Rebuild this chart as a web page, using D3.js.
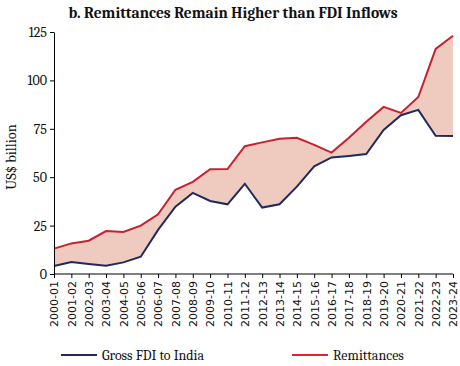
<!DOCTYPE html>
<html><head><meta charset="utf-8">
<script src="https://cdn.jsdelivr.net/npm/d3@7"></script>
<style>body{margin:0;background:#fff}svg{display:block}</style>
</head><body>
<svg id="c" width="460" height="366"></svg>
<script>
const years = ["2000-01","2001-02","2002-03","2003-04","2004-05","2005-06","2006-07","2007-08","2008-09","2009-10","2010-11","2011-12","2012-13","2013-14","2014-15","2015-16","2016-17","2017-18","2018-19","2019-20","2020-21","2021-22","2022-23","2023-24"];
const fdi = [4.1,6.2,5.2,4.3,6.0,8.9,22.8,34.8,41.9,37.7,36.0,46.6,34.3,36.0,45.1,55.6,60.2,61.0,62.0,74.4,82.0,84.8,71.4,71.3];
const remittances = [13.1,15.8,17.2,22.2,21.7,25.0,30.8,43.5,47.6,54.1,54.2,66.0,68.0,69.9,70.4,66.7,62.7,70.4,78.6,86.3,83.2,91.4,116.3,123.1];
const yTicks = [0,25,50,75,100,125];

const svg = d3.select("#c");
const x = d3.scalePoint().domain(years).range([54, 453]);
const y = d3.scaleLinear().domain([0,125]).range([274, 32]);
const serif = "Cambria, 'Liberation Serif', 'DejaVu Serif', serif";

svg.append("text").attr("x", 233).attr("y", 18).attr("text-anchor","middle")
  .attr("font-family", serif).attr("font-weight","bold").attr("font-size", 15.5)
  .attr("fill","#111").text("b. Remittances Remain Higher than FDI Inflows");

const data = years.map((d,i)=>({yr:d, f:fdi[i], r:remittances[i]}));

svg.append("path").datum(data)
  .attr("d", d3.area().x(d=>x(d.yr)).y0(d=>y(d.f)).y1(d=>y(d.r)))
  .attr("fill","#efcabe");

svg.append("path").datum(data)
  .attr("d", d3.line().x(d=>x(d.yr)).y(d=>y(d.f)))
  .attr("fill","none").attr("stroke","#1f2a5c").attr("stroke-width",2);
svg.append("path").datum(data)
  .attr("d", d3.line().x(d=>x(d.yr)).y(d=>y(d.r)))
  .attr("fill","none").attr("stroke","#c8202f").attr("stroke-width",2);

const ya = svg.append("g").attr("transform","translate(54,0)")
  .call(d3.axisLeft(y).tickValues(yTicks).tickSize(4).tickSizeOuter(0));
ya.select(".domain").attr("stroke","#000");
ya.selectAll("text").attr("font-family", serif).attr("font-size", 14).attr("fill","#111");

const xa = svg.append("g").attr("transform","translate(0,274)")
  .call(d3.axisBottom(x).tickSize(4).tickSizeOuter(0));
xa.select(".domain").attr("stroke","#000").attr("d","M54,0H453");
xa.selectAll("text").attr("font-family","'DejaVu Sans', Verdana, sans-serif").attr("font-size",11)
  .attr("fill","#111").attr("text-anchor","end")
  .attr("transform","rotate(-90)").attr("x",-7).attr("y",0).attr("dy","0.35em");

svg.append("text").attr("transform","translate(16,157) rotate(-90)").attr("text-anchor","middle")
  .attr("font-family", serif).attr("font-size", 14.5).attr("fill","#111").text("US$ billion");

const legend = [["Gross FDI to India","#1f2a5c",61],["Remittances","#e0252f",292]];
legend.forEach(([t,c,lx])=>{
  svg.append("line").attr("x1",lx).attr("x2",lx+36).attr("y1",355).attr("y2",355).attr("stroke",c).attr("stroke-width",2);
  svg.append("text").attr("x",lx+41).attr("y",360).attr("font-family",serif).attr("font-size",14).attr("fill","#111").text(t);
});
</script>
</body></html>
